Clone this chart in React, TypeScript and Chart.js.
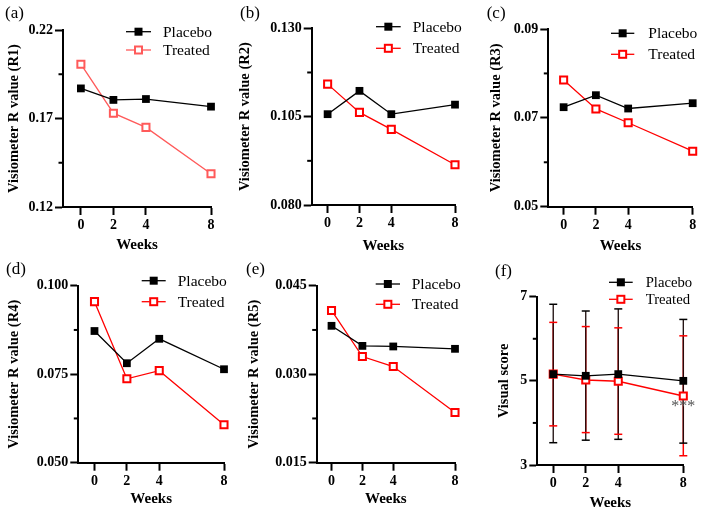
import React, { useEffect, useRef } from 'react';
import { Chart, registerables } from 'chart.js';

Chart.register(...registerables);
Chart.defaults.font.family = "'Liberation Serif', 'Times New Roman', serif";

// ---------- data ----------
const weeks = [0, 2, 4, 8];
const xTickValues = [0, 2, 4, 8];
const legendLabels = ['Placebo', 'Treated'];
const xTitle = 'Weeks';
const significanceMark = '***';

const placeboR1 = [0.187, 0.1805, 0.181, 0.1767];
const treatedR1 = [0.2007, 0.173, 0.165, 0.1388];
const yTicksR1 = ['0.12', '0.17', '0.22'];

const placeboR2 = [0.1057, 0.1123, 0.1057, 0.1084];
const treatedR2 = [0.1142, 0.1062, 0.1014, 0.0914];
const yTicksR2 = ['0.080', '0.105', '0.130'];

const placeboR3 = [0.0724, 0.0751, 0.0721, 0.0733];
const treatedR3 = [0.0785, 0.072, 0.0689, 0.0625];
const yTicksR3 = ['0.05', '0.07', '0.09'];

const placeboR4 = [0.0872, 0.0781, 0.085, 0.0764];
const treatedR4 = [0.0955, 0.0737, 0.076, 0.0607];
const yTicksR4 = ['0.050', '0.075', '0.100'];

const placeboR5 = [0.0382, 0.0348, 0.0347, 0.0343];
const treatedR5 = [0.0408, 0.033, 0.0313, 0.0235];
const yTicksR5 = ['0.015', '0.030', '0.045'];

const placeboVisual = [5.16, 5.12, 5.16, 5.0];
const treatedVisual = [5.16, 5.02, 4.99, 4.64];
const placeboVisualHigh = [6.82, 6.66, 6.71, 6.46];
const placeboVisualLow = [3.53, 3.59, 3.61, 3.52];
const treatedVisualHigh = [6.39, 6.29, 6.26, 6.07];
const treatedVisualLow = [3.93, 3.77, 3.73, 3.22];
const yTicksVisual = ['3', '5', '7'];

const panelLabels = ['(a)', '(b)', '(c)', '(d)', '(e)', '(f)'];
const yTitles = [
  'Visiometer R value (R1)',
  'Visiometer R value (R2)',
  'Visiometer R value (R3)',
  'Visiometer R value (R4)',
  'Visiometer R value (R5)',
  'Visual score',
];

// ---------- layout / styles ----------
type Panel = {
  left: number; top: number; w: number; h: number;
  plotLeft: number; plotRight: number; plotTop: number; plotBottom: number;
  xMin: number;
  placebo: number[]; treated: number[]; yTicks: string[];
  yTitle: string; label: string;
  treatedColor: string;
  yTitlePad: number; xTitlePad: number;
  legendX1: number; legendX2: number; legendTextX: number; legendY: number[]; legendFont: number;
  labelX: number; labelY: number;
  errors?: { pHigh: number[]; pLow: number[]; tHigh: number[]; tLow: number[] };
  stars?: boolean;
};

const panels: Panel[] = [
  {
    left: 0, top: 0, w: 232, h: 259,
    plotLeft: 63, plotRight: 211, plotTop: 30, plotBottom: 207, xMin: -1.1,
    placebo: placeboR1, treated: treatedR1, yTicks: yTicksR1, yTitle: yTitles[0], label: panelLabels[0],
    treatedColor: '#ff5a5a', yTitlePad: 6, xTitlePad: 5,
    legendX1: 126, legendX2: 151, legendTextX: 163, legendY: [31.7, 50], legendFont: 15.5,
    labelX: 5, labelY: 13.5,
  },
  {
    left: 232, top: 0, w: 230, h: 259,
    plotLeft: 311.7, plotRight: 458, plotTop: 28.3, plotBottom: 205, xMin: -1,
    placebo: placeboR2, treated: treatedR2, yTicks: yTicksR2, yTitle: yTitles[1], label: panelLabels[1],
    treatedColor: '#ff0000', yTitlePad: 5, xTitlePad: 3.5,
    legendX1: 376, legendX2: 400.7, legendTextX: 412.7, legendY: [26.7, 48.3], legendFont: 15.5,
    labelX: 240, labelY: 13.7,
  },
  {
    left: 462, top: 0, w: 242, h: 259,
    plotLeft: 548.3, plotRight: 692.7, plotTop: 29, plotBottom: 206.7, xMin: -0.95,
    placebo: placeboR3, treated: treatedR3, yTicks: yTicksR3, yTitle: yTitles[2], label: panelLabels[2],
    treatedColor: '#ff0000', yTitlePad: 26, xTitlePad: 3.5,
    legendX1: 611, legendX2: 634.3, legendTextX: 648.3, legendY: [33.3, 54.3], legendFont: 15.5,
    labelX: 486.7, labelY: 13.7,
  },
  {
    left: 0, top: 259, w: 232, h: 259,
    plotLeft: 78.3, plotRight: 224, plotTop: 285.7, plotBottom: 462.7, xMin: -1,
    placebo: placeboR4, treated: treatedR4, yTicks: yTicksR4, yTitle: yTitles[3], label: panelLabels[3],
    treatedColor: '#ff0000', yTitlePad: 6, xTitlePad: 9.5,
    legendX1: 141.7, legendX2: 165.7, legendTextX: 177.7, legendY: [280.7, 301.7], legendFont: 15.5,
    labelX: 6, labelY: 270,
  },
  {
    left: 232, top: 259, w: 230, h: 259,
    plotLeft: 316.7, plotRight: 462.3, plotTop: 285.7, plotBottom: 462.7, xMin: -0.96,
    placebo: placeboR5, treated: treatedR5, yTicks: yTicksR5, yTitle: yTitles[4], label: panelLabels[4],
    treatedColor: '#ff0000', yTitlePad: 14, xTitlePad: 9.5,
    legendX1: 375.7, legendX2: 400, legendTextX: 411.7, legendY: [284, 304.3], legendFont: 15.5,
    labelX: 246, labelY: 270,
  },
  {
    left: 462, top: 259, w: 242, h: 259,
    plotLeft: 537.3, plotRight: 683.3, plotTop: 296.7, plotBottom: 465, xMin: -0.98,
    placebo: placeboVisual, treated: treatedVisual, yTicks: yTicksVisual, yTitle: yTitles[5], label: panelLabels[5],
    treatedColor: '#ff0000', yTitlePad: 34, xTitlePad: 5.5,
    legendX1: 609, legendX2: 632.7, legendTextX: 645.7, legendY: [282.3, 299.3], legendFont: 14.7,
    labelX: 495, labelY: 271.7,
    errors: { pHigh: placeboVisualHigh, pLow: placeboVisualLow, tHigh: treatedVisualHigh, tLow: treatedVisualLow },
    stars: true,
  },
];

const FONT = "'Liberation Serif', 'Times New Roman', serif";

function drawMarker(ctx: CanvasRenderingContext2D, x: number, y: number, filled: boolean, color: string) {
  if (filled) {
    ctx.fillStyle = color;
    ctx.fillRect(x - 4, y - 4, 8, 8);
  } else {
    ctx.fillStyle = '#fff';
    ctx.fillRect(x - 4, y - 4, 8, 8);
    ctx.strokeStyle = color;
    ctx.lineWidth = 2;
    ctx.strokeRect(x - 3.5, y - 3.5, 7, 7);
  }
}

function makeChart(canvas: HTMLCanvasElement, p: Panel) {
  const padTop = p.plotTop - p.top;
  const padRight = p.left + p.w - p.plotRight;
  const yWidth = p.plotLeft - p.left;
  const xHeight = p.top + p.h - p.plotBottom;
  const majors = p.yTicks.map((t) => parseFloat(t));
  const yMin = majors[0];
  const yMax = majors[majors.length - 1];

  const decor = {
    id: 'decor' + p.label,
    beforeDatasetsDraw(chart: any) {
      if (!p.errors) return;
      const ctx: CanvasRenderingContext2D = chart.ctx;
      const xs = chart.scales.x;
      const ys = chart.scales.y;
      const e = p.errors;
      ctx.save();
      // verticals
      weeks.forEach((w, i) => {
        const x = xs.getPixelForValue(w);
        ctx.strokeStyle = p.treatedColor;
        ctx.lineWidth = 1.5;
        ctx.beginPath();
        ctx.moveTo(x, ys.getPixelForValue(e.tLow[i]));
        ctx.lineTo(x, ys.getPixelForValue(e.tHigh[i]));
        ctx.stroke();
        ctx.strokeStyle = '#1a0a0a';
        ctx.lineWidth = 1.3;
        ctx.beginPath();
        ctx.moveTo(x, ys.getPixelForValue(e.pLow[i]));
        ctx.lineTo(x, ys.getPixelForValue(e.pHigh[i]));
        ctx.stroke();
      });
      // caps
      const cap = (x: number, v: number, color: string) => {
        const y = ys.getPixelForValue(v);
        ctx.strokeStyle = color;
        ctx.lineWidth = 1.5;
        ctx.beginPath();
        ctx.moveTo(x - 4, y);
        ctx.lineTo(x + 4, y);
        ctx.stroke();
      };
      weeks.forEach((w, i) => {
        const x = xs.getPixelForValue(w);
        cap(x, e.pHigh[i], '#000');
        cap(x, e.pLow[i], '#000');
        cap(x, e.tHigh[i], p.treatedColor);
        cap(x, e.tLow[i], p.treatedColor);
      });
      ctx.restore();
    },
    afterDraw(chart: any) {
      const ctx: CanvasRenderingContext2D = chart.ctx;
      const ys = chart.scales.y;
      const xs = chart.scales.x;
      const axisX = chart.chartArea.left;
      ctx.save();
      // minor y ticks
      ctx.strokeStyle = '#000';
      ctx.lineWidth = 2;
      for (let i = 0; i < majors.length - 1; i++) {
        const y = ys.getPixelForValue((majors[i] + majors[i + 1]) / 2);
        ctx.beginPath();
        ctx.moveTo(axisX - 4.5, y);
        ctx.lineTo(axisX, y);
        ctx.stroke();
      }
      // legend
      const colors = ['#000', p.treatedColor];
      legendLabels.forEach((lab, i) => {
        const y = p.legendY[i] - p.top;
        const x1 = p.legendX1 - p.left;
        const x2 = p.legendX2 - p.left;
        ctx.strokeStyle = colors[i];
        ctx.lineWidth = 1.3;
        ctx.beginPath();
        ctx.moveTo(x1, y);
        ctx.lineTo(x2, y);
        ctx.stroke();
        drawMarker(ctx, (x1 + x2) / 2, y, i === 0, colors[i]);
        ctx.fillStyle = '#000';
        ctx.font = `${p.legendFont}px ${FONT}`;
        ctx.textAlign = 'left';
        ctx.textBaseline = 'middle';
        ctx.fillText(lab, p.legendTextX - p.left, y + 1);
      });
      // panel label
      ctx.fillStyle = '#000';
      ctx.font = `17px ${FONT}`;
      ctx.textAlign = 'left';
      ctx.textBaseline = 'middle';
      ctx.fillText(p.label, p.labelX - p.left, p.labelY - p.top);
      // significance
      if (p.stars) {
        const x = xs.getPixelForValue(weeks[3]);
        const y = ys.getPixelForValue(p.treated[3]);
        ctx.fillStyle = '#555';
        ctx.font = `16px ${FONT}`;
        ctx.textAlign = 'center';
        ctx.textBaseline = 'middle';
        ctx.fillText(significanceMark, x, y + 11);
      }
      ctx.restore();
    },
  };

  return new Chart(canvas, {
    type: 'line',
    data: {
      datasets: [
        {
          label: legendLabels[0],
          data: weeks.map((w, i) => ({ x: w, y: p.placebo[i] })),
          borderColor: '#000',
          backgroundColor: '#000',
          borderWidth: 1.3,
          pointStyle: 'rect',
          pointRadius: 5.5,
          pointBorderWidth: 0,
          pointBackgroundColor: '#000',
          clip: false,
        },
        {
          label: legendLabels[1],
          data: weeks.map((w, i) => ({ x: w, y: p.treated[i] })),
          borderColor: p.treatedColor,
          backgroundColor: '#fff',
          borderWidth: 1.3,
          pointStyle: 'rect',
          pointRadius: 5,
          pointBorderWidth: 2,
          pointBorderColor: p.treatedColor,
          pointBackgroundColor: '#fff',
          clip: false,
        },
      ],
    },
    options: {
      animation: false,
      responsive: false,
      events: [],
      layout: { padding: { left: 0, top: padTop, right: padRight, bottom: 0 } },
      plugins: { legend: { display: false }, tooltip: { enabled: false } },
      scales: {
        x: {
          type: 'linear',
          min: p.xMin,
          max: 8,
          afterBuildTicks: (s: any) => {
            s.ticks = xTickValues.map((v) => ({ value: v }));
          },
          afterFit: (s: any) => {
            s.height = xHeight;
          },
          ticks: {
            color: '#000',
            font: { size: 14, weight: 'bold' },
            padding: 2,
            maxRotation: 0,
            callback: (v: any) => String(v),
          },
          grid: { drawOnChartArea: false, tickLength: 8, tickWidth: 2, tickColor: '#000' },
          border: { display: true, width: 2, color: '#000' },
          title: {
            display: true,
            text: xTitle,
            color: '#000',
            font: { size: 15, weight: 'bold' },
            padding: { top: 0, bottom: p.xTitlePad },
          },
        },
        y: {
          type: 'linear',
          min: yMin,
          max: yMax,
          afterBuildTicks: (s: any) => {
            s.ticks = majors.map((v) => ({ value: v }));
          },
          afterFit: (s: any) => {
            s.width = yWidth;
          },
          ticks: {
            color: '#000',
            font: { size: 14, weight: 'bold' },
            padding: 2,
            callback: (_v: any, i: number) => p.yTicks[i],
          },
          grid: { drawOnChartArea: false, tickLength: 8, tickWidth: 2, tickColor: '#000' },
          border: { display: true, width: 2, color: '#000' },
          title: {
            display: true,
            text: p.yTitle,
            color: '#000',
            font: { size: 14.5, weight: 'bold' },
            padding: { top: p.yTitlePad, bottom: 0 },
          },
        },
      },
    },
    plugins: [decor as any],
  } as any);
}

function PanelChart({ p }: { p: Panel }) {
  const ref = useRef<HTMLCanvasElement | null>(null);
  useEffect(() => {
    if (!ref.current) return;
    const c = makeChart(ref.current, p);
    return () => c.destroy();
  }, [p]);
  return (
    <canvas
      ref={ref}
      width={p.w}
      height={p.h}
      style={{ position: 'absolute', left: p.left, top: p.top, width: p.w, height: p.h }}
    />
  );
}

export default function App() {
  return (
    <div style={{ position: 'absolute', left: 0, top: 0, width: 704, height: 518, background: '#fff' }}>
      {panels.map((p) => (
        <PanelChart key={p.label} p={p} />
      ))}
    </div>
  );
}
